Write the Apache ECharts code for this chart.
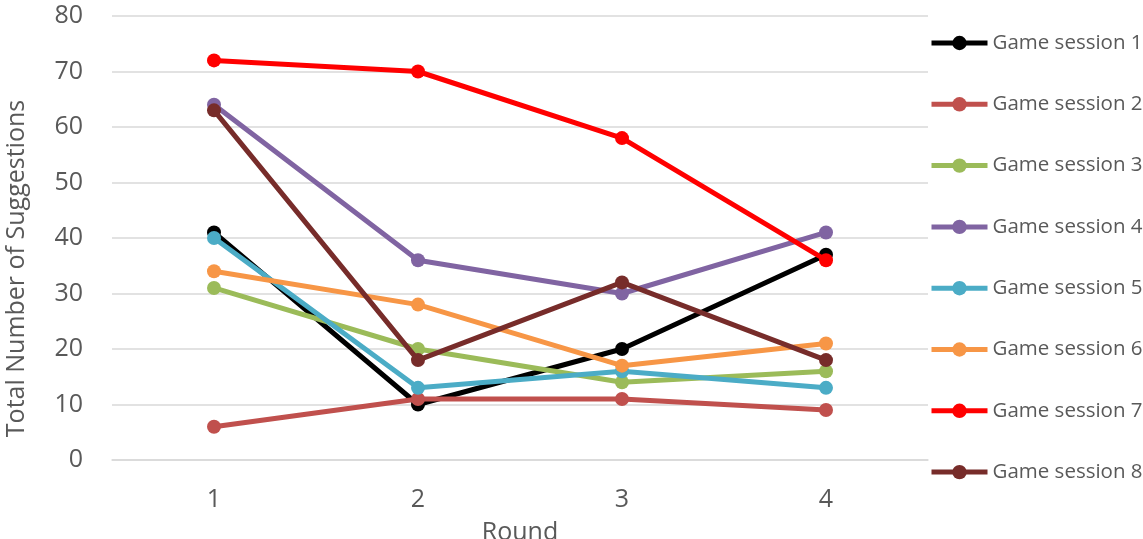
<!DOCTYPE html>
<html>
<head>
<meta charset="utf-8">
<script src="https://cdn.jsdelivr.net/npm/echarts@6/dist/echarts.min.js"></script>
<style>
  html, body { margin: 0; padding: 0; background: #fff; }
  #chart { width: 1143px; height: 539px; }
</style>
</head>
<body>
<div id="chart"></div>
<script>
// Rounds on the x axis
const rounds = ['1', '2', '3', '4'];

// Suggestions per round for each game session
const session1 = [41, 10, 20, 37];
const session2 = [6, 11, 11, 9];
const session3 = [31, 20, 14, 16];
const session4 = [64, 36, 30, 41];
const session5 = [40, 13, 16, 13];
const session6 = [34, 28, 17, 21];
const session7 = [72, 70, 58, 36];
const session8 = [63, 18, 32, 18];

const sessionNames = ['Game session 1', 'Game session 2', 'Game session 3', 'Game session 4',
                      'Game session 5', 'Game session 6', 'Game session 7', 'Game session 8'];
const sessionValues = [session1, session2, session3, session4, session5, session6, session7, session8];
const sessionColors = ['#000000', '#C0504D', '#9BBB59', '#8064A2', '#4BACC6', '#F79646', '#FF0000', '#772C2A'];

const FONT = '"Open Sans", "Noto Sans", sans-serif';
const TEXT = '#595959';
const GRID_LINE = '#d9d9d9';

const chart = echarts.init(document.getElementById('chart'), null, { renderer: 'canvas' });

chart.setOption({
  animation: false,
  color: sessionColors,
  grid: { left: 112, right: 215, top: 16, bottom: 79, outerBoundsMode: 'none', containLabel: false },
  legend: {
    orient: 'vertical',
    left: 929,
    top: 32,
    padding: 0,
    itemWidth: 56,
    itemHeight: 18,
    itemGap: 39.3,
    lineStyle: { width: 5 },
    textStyle: { fontFamily: FONT, fontSize: 20.5, color: TEXT, lineHeight: 22 },
    data: sessionNames
  },
  xAxis: {
    type: 'category',
    data: rounds,
    boundaryGap: true,
    name: 'Round',
    nameLocation: 'middle',
    nameGap: 73,
    nameTextStyle: { fontFamily: FONT, fontSize: 25, color: TEXT, verticalAlign: 'middle' },
    axisLine: { show: true, lineStyle: { color: GRID_LINE, width: 1.5 } },
    axisTick: { show: false },
    axisLabel: { fontFamily: FONT, fontSize: 25, color: TEXT, margin: 40, verticalAlign: 'middle' },
    splitLine: { show: false }
  },
  yAxis: {
    type: 'value',
    min: 0,
    max: 80,
    interval: 10,
    name: 'Total Number of Suggestions',
    nameLocation: 'middle',
    nameGap: 83,
    nameRotate: 90,
    nameTextStyle: { fontFamily: FONT, fontSize: 25, color: TEXT, padding: [0, 61, 0, 0] },
    axisLine: { show: false },
    axisTick: { show: false },
    axisLabel: { fontFamily: FONT, fontSize: 25, color: TEXT, margin: 29 },
    splitLine: { show: true, lineStyle: { color: GRID_LINE, width: 1.5 } }
  },
  series: sessionNames.map((name, i) => ({
    name: name,
    type: 'line',
    data: sessionValues[i],
    symbol: 'circle',
    symbolSize: 14,
    lineStyle: { width: 5, color: sessionColors[i] },
    itemStyle: { color: sessionColors[i] },
    z: 2 + i
  }))
});
</script>
</body>
</html>
